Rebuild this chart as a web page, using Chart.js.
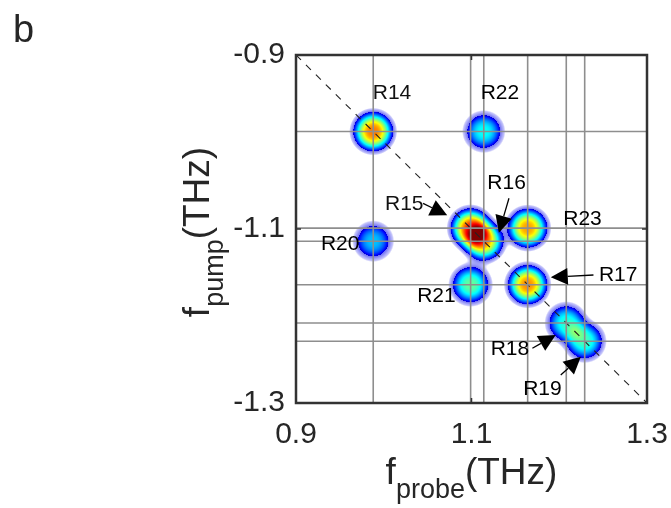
<!DOCTYPE html>
<html>
<head>
<meta charset="utf-8">
<script src="https://cdn.jsdelivr.net/npm/chart.js@4.4.1/dist/chart.umd.min.js"></script>
<style>
  html, body { margin: 0; padding: 0; background: #fff; }
  #wrap { position: relative; width: 671px; height: 508px; }
</style>
</head>
<body>
<div id="wrap"><canvas id="spectrum" width="671" height="508"></canvas></div>
<script>
// Axis ticks (THz)
const xTicks = [0.9, 1.1, 1.3];
const yTicks = [-1.3, -1.1, -0.9];

// Resonance frequencies used for the guide lines (THz)
const resonances = [0.988, 1.099, 1.114, 1.164, 1.208, 1.229];

// Peaks of the 2D map
const peakNames = ['R14', 'R15', 'R16', 'R17', 'R18', 'R19', 'R20', 'R21', 'R22', 'R23'];
const peakProbe = [0.988, 1.099, 1.114, 1.164, 1.208, 1.229, 0.988, 1.099, 1.114, 1.164];
const peakPump = [-0.988, -1.099, -1.114, -1.164, -1.208, -1.229, -1.114, -1.164, -0.988, -1.099];
const peakAmp = [0.74, 0.76, 0.66, 0.72, 0.40, 0.42, 0.32, 0.46, 0.38, 0.70];

// Peak shape: flattened gaussian, width in THz
const peakSigma = 0.0136;
const peakFlat = 1.4;

// Where each peak name goes, with an optional arrow (data units)
const callouts = {
  R14: { at: [1.0094, -0.944] },
  R22: { at: [1.1324, -0.944] },
  R16: { at: [1.140, -1.0468], tail: [1.1427, -1.0647], tip: [1.1312, -1.1043] },
  R15: { at: [1.0234, -1.0713], tail: [1.0448, -1.0705], tip: [1.0723, -1.0843] },
  R23: { at: [1.2265, -1.0889] },
  R20: { at: [0.9503, -1.1172] },
  R17: { at: [1.2672, -1.1529], tail: [1.239, -1.1529], tip: [1.1903, -1.1555] },
  R21: { at: [1.06, -1.1778] },
  R18: { at: [1.1438, -1.2383], tail: [1.1694, -1.2371], tip: [1.196, -1.2218] },
  R19: { at: [1.1808, -1.2843], tail: [1.2017, -1.2678], tip: [1.2246, -1.2468] }
};

const FONT = '"Liberation Sans", Arial, Helvetica, sans-serif';
const INK = '#262626';

// jet colormap
function jet(t) {
  const c = v => Math.max(0, Math.min(1, v));
  return [
    Math.round(255 * c(1.5 - Math.abs(4 * t - 3))),
    Math.round(255 * c(1.5 - Math.abs(4 * t - 2))),
    Math.round(255 * c(1.5 - Math.abs(4 * t - 1)))
  ];
}

const EDGE = 0.07, BLUE = 0.15;

function mapColor(v) {
  if (v < EDGE - 0.02) return null;
  if (v < BLUE) {
    // pale blue skirt around each peak
    const k = Math.max(0, (v - EDGE) / (BLUE - EDGE));
    const rgb = [195 - 85 * k, 195 - 85 * k, 250 - 8 * k];
    const a = v < EDGE ? (v - EDGE + 0.02) / 0.02 : 1;
    return [rgb[0], rgb[1], rgb[2], Math.round(255 * a)];
  }
  const t = Math.min(1, 0.08 + Math.pow((v - BLUE) / (1 - BLUE), 0.85) * 0.92);
  const rgb = jet(t);
  return [rgb[0], rgb[1], rgb[2], 255];
}

// Paints the summed peaks under the guide lines
const heatmapPlugin = {
  id: 'heatmap',
  beforeDatasetsDraw(chart) {
    const { ctx, chartArea, scales } = chart;
    const x0 = Math.floor(chartArea.left), y0 = Math.floor(chartArea.top);
    const w = Math.ceil(chartArea.right) - x0, h = Math.ceil(chartArea.bottom) - y0;
    const off = document.createElement('canvas');
    off.width = w; off.height = h;
    const octx = off.getContext('2d');
    const img = octx.createImageData(w, h);
    const s2 = 2 * peakSigma * peakSigma;
    for (let j = 0; j < h; j++) {
      const fy = scales.y.getValueForPixel(y0 + j + 0.5);
      for (let i = 0; i < w; i++) {
        const fx = scales.x.getValueForPixel(x0 + i + 0.5);
        let v = 0;
        for (let k = 0; k < peakAmp.length; k++) {
          const dx = fx - peakProbe[k], dy = fy - peakPump[k];
          v += peakAmp[k] * Math.exp(-Math.pow((dx * dx + dy * dy) / s2, peakFlat));
        }
        const col = mapColor(v);
        if (!col) continue;
        const p = (j * w + i) * 4;
        img.data[p] = col[0]; img.data[p + 1] = col[1];
        img.data[p + 2] = col[2]; img.data[p + 3] = col[3];
      }
    }
    octx.putImageData(img, 0, 0);
    ctx.drawImage(off, x0, y0);
  }
};

function drawArrow(ctx, x1, y1, x2, y2) {
  const ang = Math.atan2(y2 - y1, x2 - x1);
  const len = 17, half = 8.5;
  const bx = x2 - len * Math.cos(ang), by = y2 - len * Math.sin(ang);
  ctx.beginPath();
  ctx.moveTo(x1, y1);
  ctx.lineTo(bx, by);
  ctx.lineWidth = 1.3;
  ctx.strokeStyle = '#000';
  ctx.stroke();
  ctx.beginPath();
  ctx.moveTo(x2, y2);
  ctx.lineTo(bx + half * Math.sin(ang), by - half * Math.cos(ang));
  ctx.lineTo(bx - half * Math.sin(ang), by + half * Math.cos(ang));
  ctx.closePath();
  ctx.fillStyle = '#000';
  ctx.fill();
}

// Frame, inner ticks, peak names, axis titles with subscripts
const decorPlugin = {
  id: 'decor',
  afterDraw(chart) {
    const { ctx, chartArea: a, scales } = chart;
    ctx.save();

    // peak names and arrows
    ctx.font = '21px ' + FONT;
    ctx.fillStyle = '#111';
    ctx.textAlign = 'center';
    ctx.textBaseline = 'middle';
    peakNames.forEach(name => {
      const c = callouts[name];
      if (!c) return;
      ctx.fillText(name, scales.x.getPixelForValue(c.at[0]), scales.y.getPixelForValue(c.at[1]));
      if (c.tail) {
        drawArrow(ctx,
          scales.x.getPixelForValue(c.tail[0]), scales.y.getPixelForValue(c.tail[1]),
          scales.x.getPixelForValue(c.tip[0]), scales.y.getPixelForValue(c.tip[1]));
      }
    });

    // frame
    ctx.strokeStyle = '#333';
    ctx.lineWidth = 2.5;
    ctx.strokeRect(a.left, a.top, a.right - a.left, a.bottom - a.top);

    // inner tick marks
    ctx.lineWidth = 1.5;
    ctx.beginPath();
    xTicks.forEach(v => {
      const px = scales.x.getPixelForValue(v);
      ctx.moveTo(px, a.bottom); ctx.lineTo(px, a.bottom - 5);
      ctx.moveTo(px, a.top); ctx.lineTo(px, a.top + 5);
    });
    yTicks.forEach(v => {
      const py = scales.y.getPixelForValue(v);
      ctx.moveTo(a.left, py); ctx.lineTo(a.left + 5, py);
      ctx.moveTo(a.right, py); ctx.lineTo(a.right - 5, py);
    });
    ctx.stroke();

    // panel letter
    ctx.fillStyle = INK;
    ctx.textAlign = 'left';
    ctx.textBaseline = 'alphabetic';
    ctx.font = '38px ' + FONT;
    ctx.fillText('b', 13, 42);

    // axis titles
    const mainF = '37px ' + FONT, subF = '27px ' + FONT;
    const drawTitle = (sub, cx, base) => {
      ctx.font = mainF;
      const wf = ctx.measureText('f').width;
      const wu = ctx.measureText('(THz)').width;
      ctx.font = subF;
      const ws = ctx.measureText(sub).width;
      let x = cx - (wf + ws + wu) / 2;
      ctx.font = mainF;
      ctx.fillText('f', x, base);
      x += wf;
      ctx.font = subF;
      ctx.fillText(sub, x, base + 14);
      x += ws;
      ctx.font = mainF;
      ctx.fillText('(THz)', x, base);
    };
    const midX = (a.left + a.right) / 2;
    drawTitle('probe', midX, 484);

    ctx.translate(209, (a.top + a.bottom) / 2 + 3);
    ctx.rotate(-Math.PI / 2);
    drawTitle('pump', 0, 0);
    ctx.restore();
  }
};

const guideColor = '#8e8e8e';
const datasets = [];
resonances.forEach(f => {
  datasets.push({
    type: 'line',
    data: [{ x: f, y: yTicks[0] }, { x: f, y: yTicks[yTicks.length - 1] }],
    borderColor: guideColor, borderWidth: 1.6, pointRadius: 0
  });
  datasets.push({
    type: 'line',
    data: [{ x: xTicks[0], y: -f }, { x: xTicks[xTicks.length - 1], y: -f }],
    borderColor: guideColor, borderWidth: 1.6, pointRadius: 0
  });
});
// diagonal f_pump = -f_probe
datasets.push({
  type: 'line',
  data: [{ x: xTicks[0], y: -xTicks[0] }, { x: xTicks[xTicks.length - 1], y: -xTicks[xTicks.length - 1] }],
  borderColor: '#222', borderWidth: 1.1, borderDash: [7, 7], pointRadius: 0
});

const noPad = s => { s.paddingLeft = 0; s.paddingRight = 0; s.paddingTop = 0; s.paddingBottom = 0; };

new Chart(document.getElementById('spectrum'), {
  type: 'scatter',
  data: { datasets },
  options: {
    responsive: false,
    devicePixelRatio: 1,
    animation: false,
    layout: { padding: { left: 0, right: 24, top: 55, bottom: 0 } },
    plugins: { legend: { display: false }, tooltip: { enabled: false } },
    scales: {
      x: {
        type: 'linear', min: xTicks[0], max: xTicks[xTicks.length - 1],
        afterBuildTicks: s => { s.ticks = xTicks.map(v => ({ value: v })); },
        afterFit: s => { s.height = 105; noPad(s); },
        grid: { display: false, drawTicks: false },
        border: { display: false },
        ticks: {
          autoSkip: false, maxRotation: 0, padding: 14, color: INK,
          font: { family: FONT, size: 30 },
          callback: v => v.toFixed(1)
        }
      },
      y: {
        type: 'linear', min: yTicks[0], max: yTicks[yTicks.length - 1],
        afterBuildTicks: s => { s.ticks = yTicks.map(v => ({ value: v })); },
        afterFit: s => { s.width = 296; noPad(s); },
        grid: { display: false, drawTicks: false },
        border: { display: false },
        ticks: {
          autoSkip: false, padding: 11, color: INK,
          font: { family: FONT, size: 30 },
          callback: v => v.toFixed(1)
        }
      }
    }
  },
  plugins: [heatmapPlugin, decorPlugin]
});
</script>
</body>
</html>
